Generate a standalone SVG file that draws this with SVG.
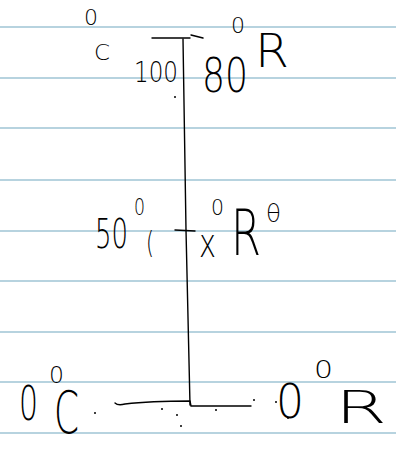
<svg xmlns="http://www.w3.org/2000/svg" width="396" height="450" viewBox="0 0 396 450">
<style>
.rule{stroke:#b7d3df;stroke-width:2}
.ink{stroke:#000;stroke-width:1.4;fill:none;stroke-linecap:round;stroke-linejoin:round}
.t{font-family:"DejaVu Sans","Liberation Sans",sans-serif;font-weight:200;fill:#000}
.dot{fill:#000}
</style>
<rect width="396" height="450" fill="#fff"/>
<g id="paper">
<line class="rule" x1="0" y1="27" x2="396" y2="27"/>
<line class="rule" x1="0" y1="78" x2="396" y2="78"/>
<line class="rule" x1="0" y1="128" x2="396" y2="128"/>
<line class="rule" x1="0" y1="180" x2="396" y2="180"/>
<line class="rule" x1="0" y1="231" x2="396" y2="231"/>
<line class="rule" x1="0" y1="281" x2="396" y2="281"/>
<line class="rule" x1="0" y1="332" x2="396" y2="332"/>
<line class="rule" x1="0" y1="382" x2="396" y2="382"/>
<line class="rule" x1="0" y1="433" x2="396" y2="433"/>
</g>
<g id="connectors">
<path class="ink" d="M183 39 L186 230 L190 405"/>
<path class="ink" d="M152 38 L190 38 M191 35 L203 38"/>
<path class="ink" d="M175 230 L195 231"/>
<path class="ink" d="M115 403 Q118 406 125 404 Q150 401 190 401 L191 406 L251 406"/>
</g>
<g id="top">
<text class="t" x="84" y="25" font-size="22" textLength="14" lengthAdjust="spacingAndGlyphs">0</text>
<text class="t" x="94" y="60" font-size="21" textLength="16" lengthAdjust="spacingAndGlyphs">C</text>
<text class="t" x="134" y="82" font-size="28" textLength="44" lengthAdjust="spacingAndGlyphs">100</text>
<text class="t" x="231" y="33" font-size="21" textLength="14" lengthAdjust="spacingAndGlyphs">0</text>
<text class="t" x="202" y="92" font-size="48" textLength="46" lengthAdjust="spacingAndGlyphs">80</text>
<text class="t" x="255" y="67" font-size="46" textLength="34" lengthAdjust="spacingAndGlyphs">R</text>
</g>
<g id="middle">
<text class="t" x="95" y="248" font-size="41" textLength="33" lengthAdjust="spacingAndGlyphs">50</text>
<text class="t" x="134" y="215" font-size="23" textLength="11" lengthAdjust="spacingAndGlyphs">0</text>
<text class="t" x="146" y="253" font-size="30" textLength="8" lengthAdjust="spacingAndGlyphs">(</text>
<text class="t" x="211" y="215" font-size="21" textLength="13" lengthAdjust="spacingAndGlyphs">0</text>
<text class="t" x="199" y="257" font-size="40" textLength="17" lengthAdjust="spacingAndGlyphs">x</text>
<text class="t" x="231" y="255" font-size="64" textLength="30" lengthAdjust="spacingAndGlyphs">R</text>
<text class="t" x="266" y="222" font-size="25" textLength="15" lengthAdjust="spacingAndGlyphs">θ</text>
</g>
<g id="bottom">
<text class="t" x="19" y="420" font-size="48" textLength="19" lengthAdjust="spacingAndGlyphs">0</text>
<text class="t" x="49" y="383" font-size="23" textLength="15" lengthAdjust="spacingAndGlyphs">0</text>
<text class="t" x="54" y="433" font-size="58" textLength="25" lengthAdjust="spacingAndGlyphs">C</text>
<text class="t" x="276" y="418" font-size="48" textLength="28" lengthAdjust="spacingAndGlyphs">0</text>
<text class="t" x="314" y="378" font-size="25" textLength="19" lengthAdjust="spacingAndGlyphs">0</text>
<text class="t" x="335" y="423" font-size="45" textLength="52" lengthAdjust="spacingAndGlyphs">R</text>
</g>
<g id="dots">
<circle class="dot" cx="175" cy="97" r="1"/>
<circle class="dot" cx="95" cy="413" r="1"/>
<circle class="dot" cx="162" cy="409" r="1"/>
<circle class="dot" cx="177" cy="415" r="1"/>
<circle class="dot" cx="181" cy="426" r="1"/>
<circle class="dot" cx="216" cy="410" r="1"/>
<circle class="dot" cx="254" cy="400" r="1"/>
<circle class="dot" cx="276" cy="402" r="1"/>
<circle class="dot" cx="288" cy="418" r="1"/>
</g>
</svg>
